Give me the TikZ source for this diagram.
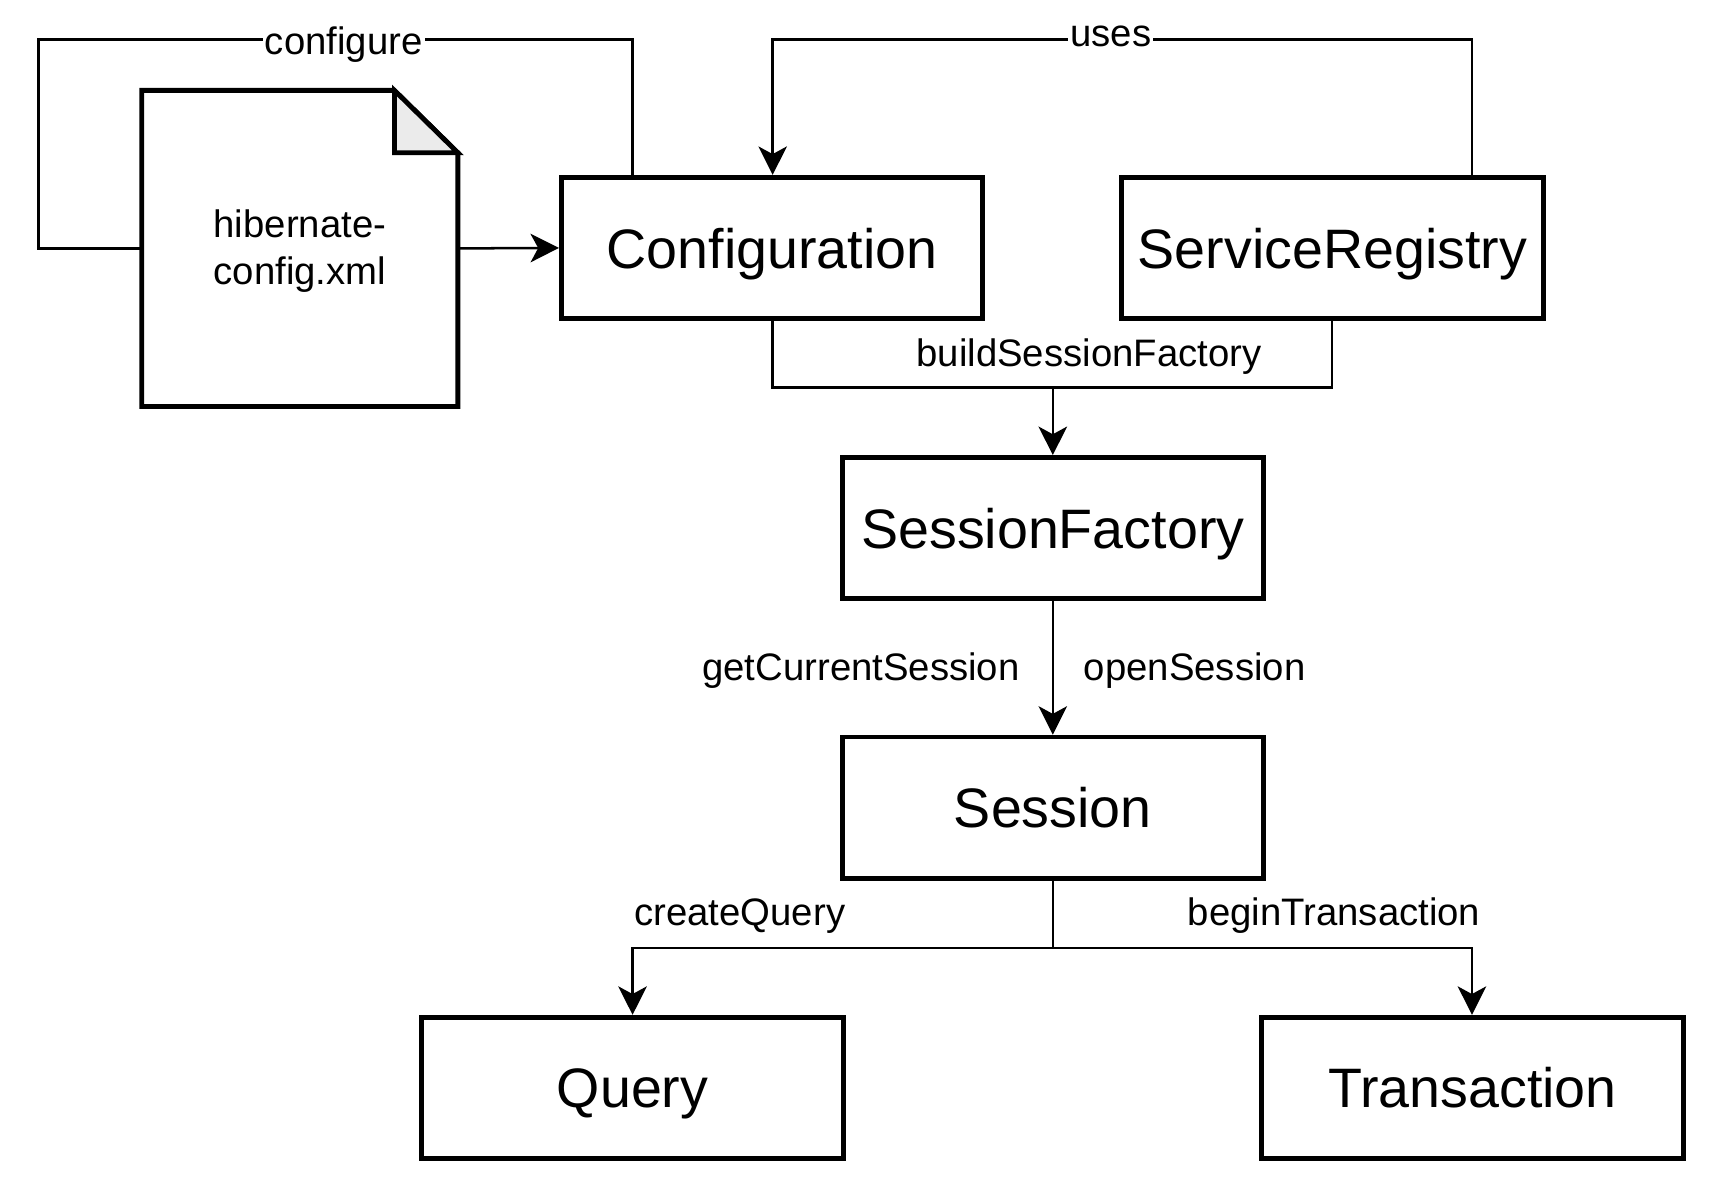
\documentclass[tikz,border=0pt]{standalone}
\usepackage{fontspec}
\setmainfont{Liberation Sans}
\usetikzlibrary{arrows.meta,calc}
\begin{document}
\begin{tikzpicture}[x=0.5pt,y=-0.5pt,
  box/.style={draw,line width=2.2pt,minimum width=192.5pt,minimum height=64.5pt,inner sep=0pt,text depth=0pt,font=\fontsize{25.4}{30}\selectfont},
  conn/.style={line width=1.15pt},
  arr/.style={conn,-{Stealth[length=13pt,width=13pt,inset=3.5pt]}},
  lbl/.style={font=\fontsize{17.5}{21.5}\selectfont,inner sep=1pt,text depth=0pt}]
\fill[white] (0,0) rectangle (1568,1089);
\useasboundingbox (0,0) rectangle (1568,1089);

% nodes
\node[box] (conf) at (705.5,226.5) {Configuration};
\node[box] (sr) at (1217.5,226.5) {ServiceRegistry};
\node[box] (sf) at (962,482.5) {SessionFactory};
\node[box] (sess) at (962,738) {Session};
\node[box] (query) at (578,994) {Query};
\node[box] (trans) at (1345.5,994) {Transaction};
\node[minimum width=144pt,minimum height=144pt,inner sep=0pt,align=center,
      font=\fontsize{17.5}{21.5}\selectfont] (doc) at (274,227) {};
\node[font=\fontsize{17.5}{21.5}\selectfont,align=center,inner sep=0pt] (doctext) at (274,229.5) {hibernate-\\config.xml};
\draw[line width=2.2pt,line join=miter]
  (doc.north west) -- ([xshift=-29pt]doc.north east) -- ([yshift=-28.5pt]doc.north east)
  -- (doc.south east) -- (doc.south west) -- cycle;
\draw[line width=2.2pt,fill=black!8,line join=miter]
  ([xshift=-29pt]doc.north east) -- ([xshift=-29pt,yshift=-28.5pt]doc.north east)
  -- ([yshift=-28.5pt]doc.north east) -- cycle;

% configure loop
\coordinate (cfgA) at (35,227);
\coordinate (cfgB) at (35,36);
\coordinate (cfgC) at (578,36);
\draw[conn] (doc.west) -- (cfgA) -- (cfgB) -- (cfgC) -- (cfgC |- conf.north);
\node[lbl,fill=white] (lcfg) at (314,37) {configure};

% doc -> configuration
\draw[arr] (doc.east) -- (conf.west);

% uses
\coordinate (usR) at (1345,36);
\coordinate (usL) at (706,36);
\draw[arr] (usR |- sr.north) -- (usR) -- (usL) -- (usL |- conf.north);
\node[lbl,fill=white] (luses) at (1015,33) {uses};

% buildSessionFactory
\coordinate (bL) at (706,354);
\coordinate (bR) at (1217,354);
\coordinate (bM) at (962,354);
\draw[conn] (bL |- conf.south) -- (bL) -- (bR) -- (bR |- sr.south);
\draw[arr] (bM) -- (sf.north);
\node[lbl] (lbuild) at (995,322) {buildSessionFactory};

% SessionFactory -> Session
\draw[arr] (sf.south) -- (sess.north);
\node[lbl,anchor=east] (lget) at (934,609) {getCurrentSession};
\node[lbl,anchor=west] (lopen) at (988,609) {openSession};

% Session -> Query / Transaction
\coordinate (sM) at (962,866);
\coordinate (sL) at (578,866);
\coordinate (sR) at (1345,866);
\draw[arr] (sess.south) -- (sM) -- (sL) -- (sL |- query.north);
\draw[arr] (sM) -- (sR) -- (sR |- trans.north);
\node[lbl] (lcq) at (676,833) {createQuery};
\node[lbl] (lbt) at (1219,833) {beginTransaction};
\end{tikzpicture}
\end{document}
